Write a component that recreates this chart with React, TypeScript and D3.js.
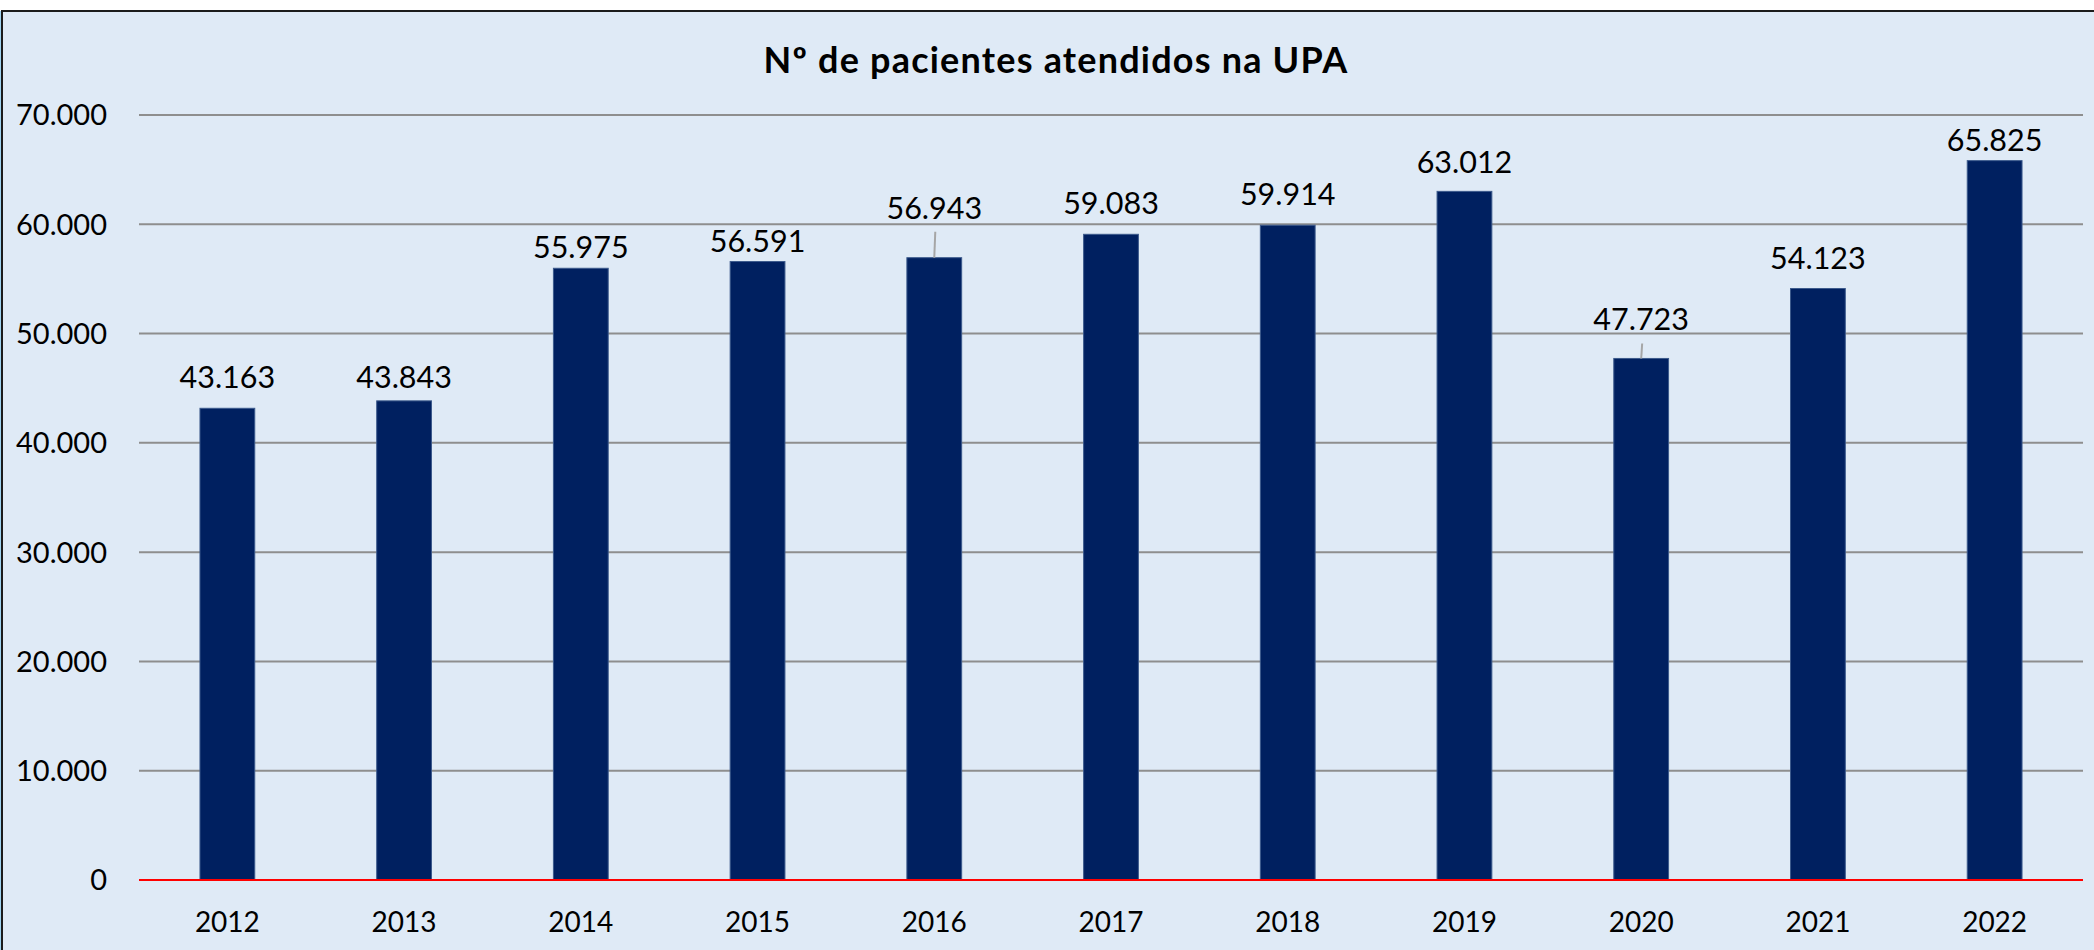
import * as d3 from 'd3'

const YEARS = ['2012', '2013', '2014', '2015', '2016', '2017', '2018', '2019', '2020', '2021', '2022']
const PATIENTS = [43163, 43843, 55975, 56591, 56943, 59083, 59914, 63012, 47723, 54123, 65825]
// how far each data label sits above its bar (px), as placed by hand in the original
const LABEL_LIFT = [20, 13, 10, 10, 39, 20, 20, 18, 28, 20, 10]
const Y_TICKS = [0, 10000, 20000, 30000, 40000, 50000, 60000, 70000]
const TITLE = 'Nº de pacientes atendidos na UPA'

const W = 2094
const H = 950
const FONT = 'Lato, "Open Sans", sans-serif'

const ptBR = d3.formatLocale({ decimal: ',', thousands: '.', grouping: [3], currency: ['R$', ''] })
const fmt = ptBR.format(',d')

export default function App() {
  const left = 139
  const right = 2083
  const top = 115
  const bottom = 880

  const x = d3.scaleBand<string>()
    .domain(YEARS)
    .range([left, right])
    .paddingInner(0.69)
    .paddingOuter(0.345)

  const y = d3.scaleLinear().domain([0, 70000]).range([bottom, top])

  return (
    <svg width={W} height={H} style={{ position: 'absolute', left: 0, top: 0 }} fontFamily={FONT}>
      {/* chart area */}
      <rect x={0} y={0} width={W} height={H} fill="#ffffff" />
      <rect x={2} y={11} width={W + 10} height={H + 10} fill="#dfeaf6" stroke="#1c1c1c" strokeWidth={2} />
      <line x1={0.5} y1={11} x2={0.5} y2={H} stroke="#9fd3f0" strokeWidth={1} />

      <text x={1056} y={73} textAnchor="middle" fontSize={36} fontWeight="bold" letterSpacing={1.2} fill="#000">
        {TITLE}
      </text>

      {/* gridlines + y labels */}
      {Y_TICKS.map(t => (
        <g key={t}>
          {t !== 0 && (
            <line x1={left} x2={right} y1={y(t)} y2={y(t)} stroke="#8e8e8e" strokeWidth={2} />
          )}
          <text x={107} y={y(t)} dy="0.36em" textAnchor="end" fontSize={29} fill="#000">
            {fmt(t)}
          </text>
        </g>
      ))}

      {/* bars */}
      {YEARS.map((yr, i) => (
        <rect
          key={yr}
          x={x(yr)}
          y={y(PATIENTS[i])}
          width={x.bandwidth()}
          height={bottom - y(PATIENTS[i])}
          fill="#002060"
          stroke="#3c5a8c"
          strokeWidth={1}
        />
      ))}

      {/* zero line */}
      <line x1={left} x2={right} y1={bottom} y2={bottom} stroke="#ff0000" strokeWidth={2} />

      {/* data labels */}
      {YEARS.map((yr, i) => {
        const cx = x(yr)! + x.bandwidth() / 2
        const barTop = y(PATIENTS[i])
        const base = barTop - LABEL_LIFT[i]
        return (
          <g key={yr}>
            {LABEL_LIFT[i] > 25 && (
              <line x1={cx} x2={cx + 1} y1={barTop} y2={base + 13} stroke="#a6a6a6" strokeWidth={2} />
            )}
            <text x={cx} y={base} textAnchor="middle" fontSize={30.5} fill="#000">
              {fmt(PATIENTS[i])}
            </text>
          </g>
        )
      })}

      {/* x labels */}
      {YEARS.map(yr => (
        <text key={yr} x={x(yr)! + x.bandwidth() / 2} y={932} textAnchor="middle" fontSize={28} fill="#000">
          {yr}
        </text>
      ))}
    </svg>
  )
}
